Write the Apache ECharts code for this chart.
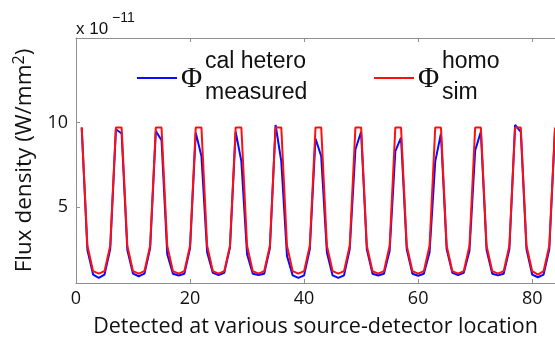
<!DOCTYPE html>
<html>
<head>
<meta charset="utf-8">
<script src="https://cdn.jsdelivr.net/npm/echarts@6/dist/echarts.min.js"></script>
<style>
  html, body { margin: 0; padding: 0; background: #fff; }
  #chart { width: 555px; height: 343px; }
</style>
</head>
<body>
<div id="chart"></div>
<script>
// detector locations 1..84, flux in units of 1e-11 W/mm^2
const locations = [
  1, 2, 3, 4, 5, 6, 7, 8, 9, 10, 11, 12, 13, 14, 15, 16, 17, 18, 19, 20, 21,
  22, 23, 24, 25, 26, 27, 28, 29, 30, 31, 32, 33, 34, 35, 36, 37, 38, 39, 40, 41, 42,
  43, 44, 45, 46, 47, 48, 49, 50, 51, 52, 53, 54, 55, 56, 57, 58, 59, 60, 61, 62, 63,
  64, 65, 66, 67, 68, 69, 70, 71, 72, 73, 74, 75, 76, 77, 78, 79, 80, 81, 82, 83, 84
];

const measured = [
  9.7,
  2.45, 1.0, 0.8, 1.0, 2.5, 9.6, 9.35,
  2.45, 1.05, 0.9, 1.05, 2.55, 9.5, 8.95,
  2.2, 1.05, 0.94, 1.05, 2.55, 9.4, 8.0,
  2.3, 1.1, 0.97, 1.1, 2.6, 9.45, 7.7,
  2.2, 1.05, 0.97, 1.05, 2.55, 9.85, 7.7,
  2.1, 0.95, 0.8, 0.95, 2.5, 9.05, 8.0,
  2.3, 0.95, 0.8, 0.95, 2.5, 8.4, 9.45,
  2.5, 1.05, 0.94, 1.05, 2.4, 8.3, 9.1,
  2.5, 1.05, 0.93, 1.05, 2.3, 7.7, 9.35,
  2.5, 1.1, 0.97, 1.1, 2.4, 8.35, 9.45,
  2.45, 1.05, 0.95, 1.05, 2.5, 9.85, 9.45,
  2.5, 1.0, 0.84, 1.0, 2.5, 9.6
];

const simulated = [
  9.7,
  2.7, 1.2, 1.05, 1.2, 2.7, 9.7, 9.7,
  2.7, 1.2, 1.05, 1.2, 2.7, 9.7, 9.7,
  2.7, 1.2, 1.05, 1.2, 2.7, 9.7, 9.7,
  2.7, 1.2, 1.05, 1.2, 2.7, 9.7, 9.7,
  2.7, 1.2, 1.05, 1.2, 2.7, 9.7, 9.7,
  2.7, 1.2, 1.05, 1.2, 2.7, 9.7, 9.7,
  2.7, 1.2, 1.05, 1.2, 2.7, 9.7, 9.7,
  2.7, 1.2, 1.05, 1.2, 2.7, 9.7, 9.7,
  2.7, 1.2, 1.05, 1.2, 2.7, 9.7, 9.7,
  2.7, 1.2, 1.05, 1.2, 2.7, 9.7, 9.7,
  2.7, 1.2, 1.05, 1.2, 2.7, 9.7, 9.7,
  2.7, 1.2, 1.0, 1.2, 2.7, 9.7
];

const xTicks = [0, 20, 40, 60, 80];
const yTicks = [5, 10];

const font = 'Open Sans';
const axisGrey = '#8f8f8f';

const pairs = (ys) => locations.map((x, i) => [x, ys[i]]);

const chart = echarts.init(document.getElementById('chart'));

chart.setOption({
  animation: false,
  backgroundColor: '#fff',
  grid: { left: 76, top: 38, right: -4, bottom: 52 },
  xAxis: [
    {
      type: 'value',
      min: 0,
      max: 84,
      interval: 20,
      name: 'Detected at various source-detector location',
      nameLocation: 'middle',
      nameGap: 33,
      nameTextStyle: { fontFamily: font, fontSize: 21.5, color: '#111' },
      axisLine: { show: true, onZero: false, lineStyle: { color: axisGrey, width: 1 } },
      axisTick: { show: true, inside: true, length: 4, lineStyle: { color: axisGrey } },
      axisLabel: {
        fontFamily: font, fontSize: 18, color: '#111', margin: 7,
        customValues: xTicks
      },
      splitLine: { show: false }
    },
    {
      type: 'value',
      position: 'top',
      min: 0,
      max: 84,
      interval: 20,
      axisLine: { show: true, lineStyle: { color: axisGrey, width: 1 } },
      axisTick: { show: true, inside: true, length: 4, lineStyle: { color: axisGrey } },
      axisLabel: { show: false },
      splitLine: { show: false }
    }
  ],
  yAxis: {
    type: 'value',
    min: 0.5,
    max: 15,
    name: 'Flux density (W/mm{sup|2})',
    nameLocation: 'middle',
    nameGap: 34,
    nameRotate: 90,
    nameTextStyle: {
      fontFamily: font, fontSize: 22.5, color: '#111',
      rich: { sup: { fontFamily: font, fontSize: 16, verticalAlign: 'top', padding: [0, 0, 12, 0] } }
    },
    axisLine: { show: true, lineStyle: { color: axisGrey, width: 1 } },
    axisTick: { show: true, inside: true, length: 4, lineStyle: { color: axisGrey }, customValues: yTicks },
    axisLabel: { fontFamily: font, fontSize: 18, color: '#111', margin: 8, customValues: yTicks },
    splitLine: { show: false }
  },
  series: [
    {
      name: 'measured',
      type: 'line',
      data: pairs(measured),
      symbol: 'none',
      lineStyle: { color: '#0a0aff', width: 2 },
      z: 2
    },
    {
      name: 'sim',
      type: 'line',
      data: pairs(simulated),
      symbol: 'none',
      lineStyle: { color: '#ff1010', width: 2 },
      z: 3
    }
  ],
  graphic: [
    // exponent label
    {
      type: 'text', left: 76, top: 21,
      style: { text: 'x 10', fontFamily: 'Liberation Sans', fontSize: 17, fill: '#111' }
    },
    {
      type: 'text', left: 112, top: 11,
      style: { text: '\u221211', fontFamily: 'Liberation Sans', fontSize: 14, fill: '#111' }
    },
    // legend entries
    {
      type: 'line', shape: { x1: 137, y1: 78, x2: 177, y2: 78 },
      style: { stroke: '#0a0aff', lineWidth: 2 }
    },
    {
      type: 'text', x: 181, y: 79,
      style: { text: '\u03A6', fontFamily: 'Liberation Serif', fontSize: 29, fill: '#111', verticalAlign: 'middle' }
    },
    {
      type: 'text', x: 205, y: 62,
      style: { text: 'cal hetero', fontFamily: 'Liberation Sans', fontSize: 23, fill: '#111', verticalAlign: 'middle' }
    },
    {
      type: 'text', x: 205, y: 93,
      style: { text: 'measured', fontFamily: 'Liberation Sans', fontSize: 23, fill: '#111', verticalAlign: 'middle' }
    },
    {
      type: 'line', shape: { x1: 374, y1: 78, x2: 414, y2: 78 },
      style: { stroke: '#ff1010', lineWidth: 2 }
    },
    {
      type: 'text', x: 418, y: 79,
      style: { text: '\u03A6', fontFamily: 'Liberation Serif', fontSize: 29, fill: '#111', verticalAlign: 'middle' }
    },
    {
      type: 'text', x: 442, y: 62,
      style: { text: 'homo', fontFamily: 'Liberation Sans', fontSize: 23, fill: '#111', verticalAlign: 'middle' }
    },
    {
      type: 'text', x: 442, y: 93,
      style: { text: 'sim', fontFamily: 'Liberation Sans', fontSize: 23, fill: '#111', verticalAlign: 'middle' }
    }
  ]
});
</script>
</body>
</html>
